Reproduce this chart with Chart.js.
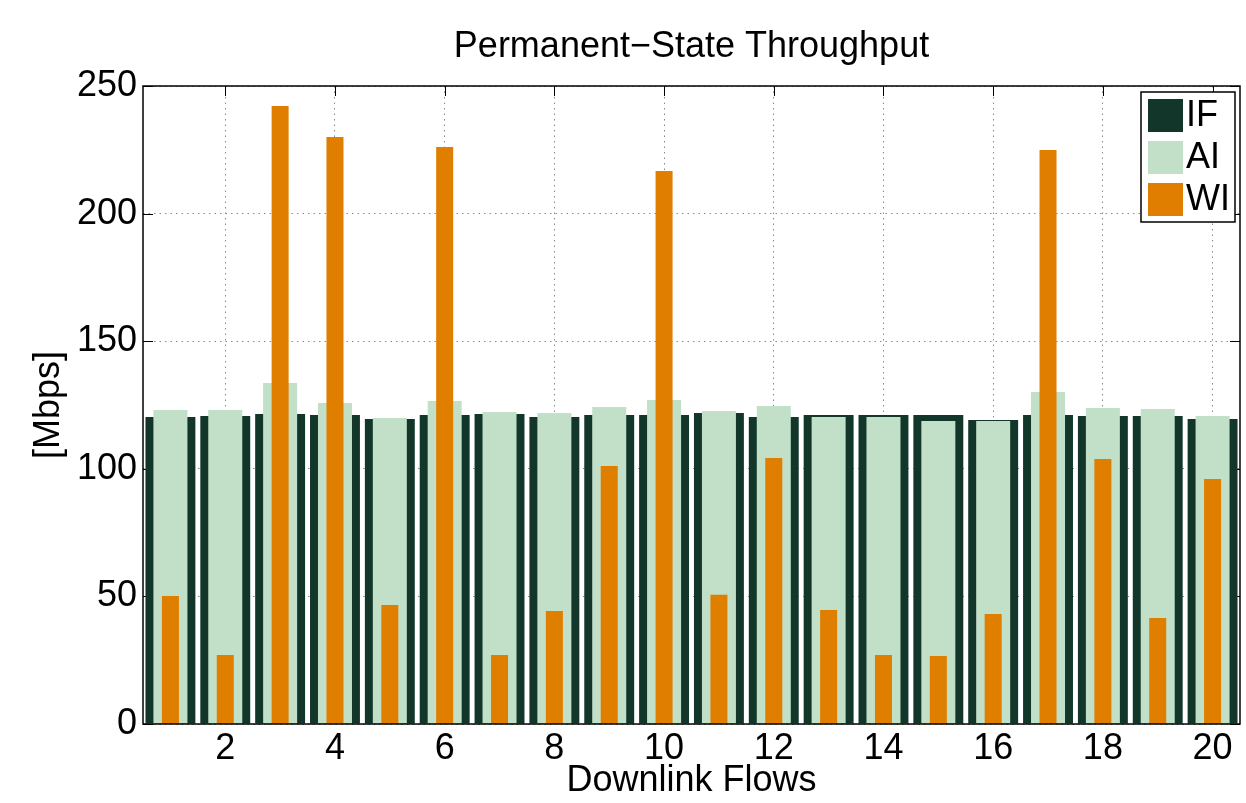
<!DOCTYPE html>
<html>
<head>
<meta charset="utf-8">
<title>Permanent-State Throughput</title>
<script src="https://cdn.jsdelivr.net/npm/chart.js@4.4.1/dist/chart.umd.min.js"></script>
<style>
  html, body { margin: 0; padding: 0; background: #fff; }
</style>
</head>
<body>
<canvas id="mycanvas" width="1246" height="803"></canvas>
<script>
// data (Mbps)
var flows = ['1', '2', '3', '4', '5', '6', '7', '8', '9', '10',
             '11', '12', '13', '14', '15', '16', '17', '18', '19', '20'];
var ifValues = [120.3, 120.7, 121.5, 121.1, 119.5, 121.1, 121.5, 120.3, 121.1, 121.1,
                121.9, 120.3, 121.1, 121.1, 121.1, 119.1, 121.1, 120.7, 120.7, 119.5];
var aiValues = [123.0, 123.0, 133.6, 125.8, 119.9, 126.6, 122.3, 121.9, 124.2, 127.0,
                122.6, 124.6, 120.3, 120.3, 118.7, 118.7, 130.1, 123.8, 123.4, 120.7];
var wiValues = [50.2, 27.0, 242.2, 230.0, 46.6, 226.1, 27.0, 44.3, 101.1, 216.7,
                50.6, 104.2, 44.7, 27.0, 26.6, 43.1, 224.9, 103.8, 41.5, 96.0];
var yMin = 0, yMax = 250, yStep = 50;

var FONT = '"Liberation Sans", Arial, Helvetica, sans-serif';
var GRID = '#8a8a8a';

// box, inside ticks and the legend drawn the matlab way
var matlabAxes = {
    id: 'matlabAxes',
    beforeDatasetsDraw: function(chart) {
        var ctx = chart.ctx, a = chart.chartArea;
        var xs = chart.scales.x, ys = chart.scales.y;
        ctx.save();
        ctx.strokeStyle = '#000';
        ctx.lineWidth = 1;
        ctx.beginPath();
        ys.ticks.forEach(function(t) {
            var py = Math.round(ys.getPixelForValue(t.value)) + 0.5;
            ctx.moveTo(a.left, py); ctx.lineTo(a.left + 10, py);
            ctx.moveTo(a.right, py); ctx.lineTo(a.right - 10, py);
        });
        xs.ticks.forEach(function(t, i) {
            if (!t.label) return;
            var px = Math.round(xs.getPixelForTick(i)) + 0.5;
            ctx.moveTo(px, a.bottom); ctx.lineTo(px, a.bottom - 10);
            ctx.moveTo(px, a.top); ctx.lineTo(px, a.top + 10);
        });
        ctx.stroke();
        ctx.restore();
    },
    afterDatasetsDraw: function(chart) {
        var ctx = chart.ctx, a = chart.chartArea;
        ctx.save();
        ctx.strokeStyle = '#000';
        ctx.lineWidth = 1.5;
        ctx.strokeRect(a.left, a.top, a.right - a.left, a.bottom - a.top);

        // legend box, top right inside the axes
        var ds = chart.data.datasets;
        var w = 94, rowH = 42, h = 130;
        var lx = a.right - 5 - w, ly = a.top + 6;
        ctx.fillStyle = '#fff';
        ctx.fillRect(lx, ly, w, h);
        ctx.strokeRect(lx, ly, w, h);
        ctx.font = '36px ' + FONT;
        ctx.textBaseline = 'middle';
        ctx.textAlign = 'left';
        for (var i = 0; i < ds.length; i++) {
            var ry = ly + 7 + i * rowH;
            ctx.fillStyle = ds[i].backgroundColor;
            ctx.fillRect(lx + 7, ry, 35, 33);
            ctx.fillStyle = '#000';
            ctx.fillText(ds[i].label, lx + 45, ry + 17);
        }
        ctx.restore();
    }
};

var ctx = document.getElementById('mycanvas');
var chart = new Chart(ctx, {
    type: 'bar',
    data: {
        labels: flows,
        datasets: [
            {
                label: 'IF',
                data: ifValues,
                backgroundColor: '#12372a',
                grouped: false,
                order: 3,
                categoryPercentage: 1,
                barPercentage: 0.91
            },
            {
                label: 'AI',
                data: aiValues,
                backgroundColor: '#c2dfc8',
                grouped: false,
                order: 2,
                categoryPercentage: 1,
                barPercentage: 0.62
            },
            {
                label: 'WI',
                data: wiValues,
                backgroundColor: '#e07e00',
                grouped: false,
                order: 1,
                categoryPercentage: 1,
                barPercentage: 0.31
            }
        ]
    },
    options: {
        responsive: false,
        animation: false,
        devicePixelRatio: 1,
        layout: { padding: { left: 0, right: 6, top: 0, bottom: 0 } },
        plugins: {
            legend: { display: false },
            tooltip: { enabled: false },
            title: {
                display: true,
                text: 'Permanent\u2212State Throughput',
                fullSize: false,
                color: '#000',
                font: { family: FONT, size: 36, weight: 'normal', lineHeight: 1 },
                padding: { top: 29, bottom: 21 }
            }
        },
        scales: {
            x: {
                offset: true,
                grid: {
                    offset: false,
                    drawTicks: false,
                    lineWidth: 1,
                    color: function(c) {
                        return (c.index + 1) % 2 === 0 ? GRID : 'rgba(0,0,0,0)';
                    }
                },
                border: { display: false, dash: [1.5, 4] },
                ticks: {
                    autoSkip: false,
                    maxRotation: 0,
                    color: '#000',
                    padding: 3,
                    font: { family: FONT, size: 36 },
                    callback: function(value, index) {
                        return (index + 1) % 2 === 0 ? this.getLabelForValue(value) : '';
                    }
                },
                title: {
                    display: true,
                    text: 'Downlink Flows',
                    color: '#000',
                    font: { family: FONT, size: 36, lineHeight: 1 },
                    padding: { top: 0, bottom: 4 }
                },
                afterFit: function(scale) { scale.height = 79; }
            },
            y: {
                min: yMin,
                max: yMax,
                grid: { drawTicks: false, lineWidth: 1, color: GRID },
                border: { display: false, dash: [1.5, 4] },
                ticks: {
                    stepSize: yStep,
                    color: '#000',
                    padding: 6,
                    font: { family: FONT, size: 36 }
                },
                title: {
                    display: true,
                    text: '[Mbps]',
                    color: '#000',
                    font: { family: FONT, size: 36, lineHeight: 1 },
                    padding: { top: 31, bottom: 0 }
                },
                afterFit: function(scale) { scale.width = 143; }
            }
        }
    },
    plugins: [matlabAxes]
});
</script>
</body>
</html>
